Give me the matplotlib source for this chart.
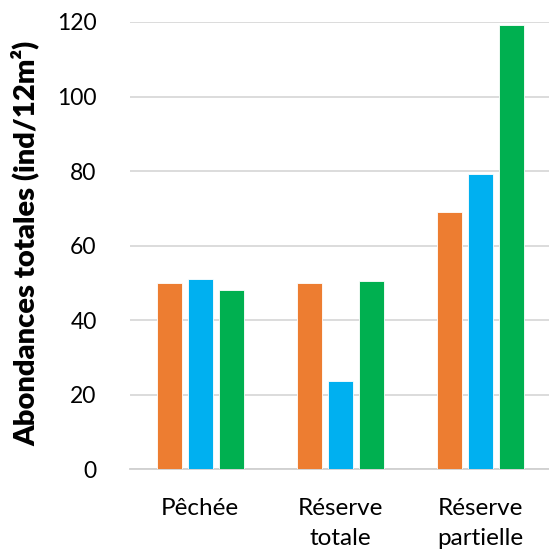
import numpy as np
import matplotlib
matplotlib.use('Agg')
import matplotlib.pyplot as plt

plt.rcParams['font.family'] = ['Lato', 'DejaVu Sans']

sites = ['Pêchée', 'Réserve\ntotale', 'Réserve\npartielle']
serie_orange = [50.0, 50.0, 69.0]
serie_bleu = [51.0, 23.7, 79.1]
serie_vert = [48.0, 50.6, 119.2]
yticks = [0, 20, 40, 60, 80, 100, 120]

couleurs = ['#ED7D31', '#00B0F0', '#00B050']
largeur = 0.178
decalage = 0.221

fig = plt.figure(figsize=(5.49, 5.49), dpi=100)
ax = fig.add_axes([130 / 549, 1 - 469.3 / 549, 1 - 130 / 549, 447.3 / 549])

x = np.arange(len(sites))
for i, (vals, c) in enumerate(zip([serie_orange, serie_bleu, serie_vert], couleurs)):
    ax.bar(x + (i - 1) * decalage, vals, width=largeur, color=c,
           edgecolor='white', linewidth=0.6, zorder=3)

ax.set_ylim(0, 120)
ax.set_xlim(-0.5, 2.49)
ax.set_yticks(yticks)
ax.set_xticks(x)
ax.set_xticklabels(sites, fontsize=17.5, linespacing=1.5)
ax.tick_params(axis='y', length=0, pad=24, labelsize=16.5)
ax.tick_params(axis='x', length=0, pad=21)
ax.yaxis.grid(True, color='#D9D9D9', linewidth=1.3, zorder=0)
for s in ['top', 'right', 'left']:
    ax.spines[s].set_visible(False)
ax.spines['bottom'].set_color('#D0D0D0')
ax.spines['bottom'].set_linewidth(1.3)

fig.text(25 / 549, 1 - 243 / 549, 'Abondances totales (ind/12m²)', rotation=90,
         fontsize=21, fontweight='heavy', ha='center', va='center')

fig.savefig('out.png', dpi=100)
